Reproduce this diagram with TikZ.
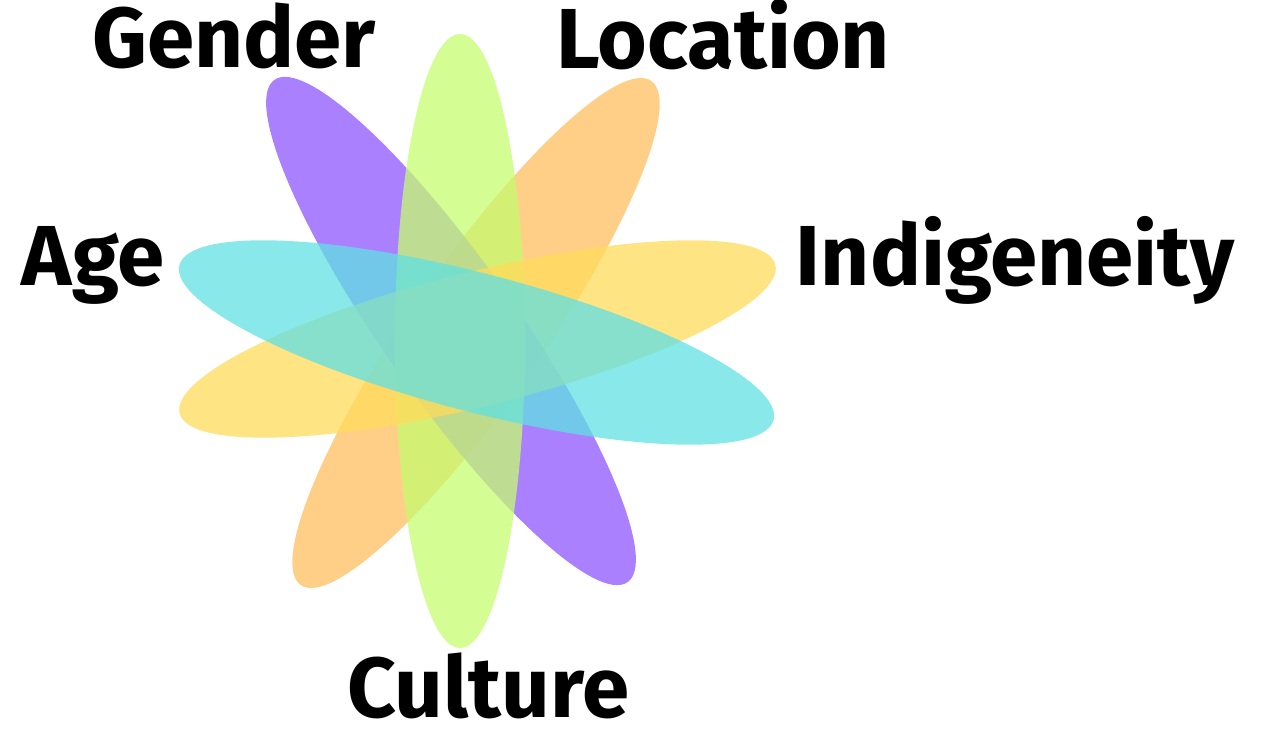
\documentclass[tikz,border=0pt]{standalone}
\usepackage{fontspec}
\setmainfont{Fira Sans}
\usepackage{xcolor}
\usepackage{tikz}
\definecolor{petalorange}{RGB}{255, 191, 96}
\definecolor{petalpurple}{RGB}{142, 86, 255}
\definecolor{petalgreen}{RGB}{198, 252, 111}
\definecolor{petalyellow}{RGB}{255, 219, 91}
\definecolor{petalcyan}{RGB}{96, 224, 227}

\begin{document}
\begin{tikzpicture}[x=0.02cm, y=0.02cm,
  petal/.style={fill opacity=0.75},
  facet/.style={font=\fontsize{48.5}{52}\selectfont\bfseries, anchor=base, inner sep=0pt}]
  \useasboundingbox (0,0) rectangle (1273,-729);

  % ---- Petals, back to front ----
  \fill[petal, petalorange, rotate around={55.2:(476,-333)}]
    (476,-333) ellipse [x radius=307, y radius=67];
  \fill[petal, petalpurple, rotate around={-54.9:(451,-331)}]
    (451,-331) ellipse [x radius=307, y radius=67];
  \fill[petal, petalgreen]
    (460,-341) ellipse [x radius=65, y radius=307];
  \fill[petal, petalyellow, rotate around={14:(477.5,-339)}]
    (477.5,-339) ellipse [x radius=307, y radius=67];
  \fill[petal, petalcyan, rotate around={-14.6:(476.5,-342.5)}]
    (476.5,-342.5) ellipse [x radius=307, y radius=69];

  % ---- Labels ----
  \node[facet] (gender) at (234,-68) {Gender};
  \node[facet] (location) at (723,-69) {Location};
  \node[facet] (age) at (93,-285) {Age};
  \node[facet] (indigeneity) at (1015,-285) {Indigeneity};
  \node[facet] (culture) at (488,-717) {Culture};
\end{tikzpicture}
\end{document}
